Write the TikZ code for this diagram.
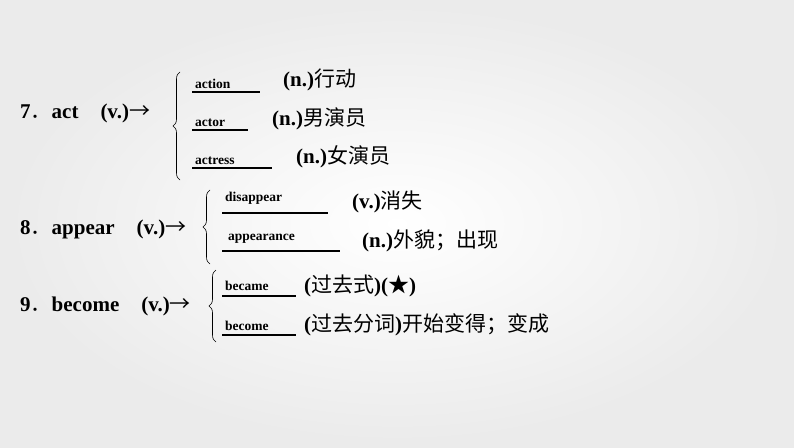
\documentclass[tikz,border=0pt]{standalone}
\usepackage{fontspec}
\setmainfont{Liberation Serif}
\newfontfamily\cjkf{Noto Sans CJK SC}
\newcommand\cjk{\cjkf\mdseries}
\newcommand\rarr{{\cjk →}}
\usetikzlibrary{decorations.pathreplacing}
\tikzset{
 head/.style={anchor=west,font=\bfseries\fontsize{21}{23}\selectfont,inner sep=0},
 ans/.style={anchor=south west,font=\bfseries\fontsize{13.5}{14}\selectfont,inner sep=1pt},
 mean/.style={anchor=west,font=\bfseries\fontsize{21}{23}\selectfont,inner sep=0},
 blank/.style={line width=1.3pt},
 br/.style={decorate,decoration={brace,amplitude=7pt,mirror},line width=0.6pt}
}
\begin{document}
\begin{tikzpicture}[x=1pt,y=-1pt]
\useasboundingbox (0,0) rectangle (794,447);
\shade[inner color=white,outer color=black!8] (0,0) rectangle (794,447);
% row 7
\node[head] (h7) at (20,113) {7{\cjk ．}act\hspace{22pt}(v.)\rarr};
\draw[br] (180,72) -- (180,180);
\coordinate (l1a) at (192,92); \coordinate (l1b) at (260,92);
\draw[blank] (l1a) -- (l1b); \node[ans] (a1) at (194,90) {action};
\node[mean] (m1) at (283,80) {(n.){\cjk 行动}};
\coordinate (l2a) at (192,130); \coordinate (l2b) at (248,130);
\draw[blank] (l2a) -- (l2b); \node[ans] (a2) at (194,128) {actor};
\node[mean] (m2) at (272,119) {(n.){\cjk 男演员}};
\coordinate (l3a) at (192,168); \coordinate (l3b) at (272,168);
\draw[blank] (l3a) -- (l3b); \node[ans] (a3) at (194,166) {actress};
\node[mean] (m3) at (296,157) {(n.){\cjk 女演员}};
% row 8
\node[head] (h8) at (20,229) {8{\cjk ．}appear\hspace{22pt}(v.)\rarr};
\draw[br] (210,190) -- (210,264);
\coordinate (l4a) at (222,213); \coordinate (l4b) at (328,213);
\draw[blank] (l4a) -- (l4b); \node[ans] (a4) at (224,206) {disappear};
\node[mean] (m4) at (352,202) {(v.){\cjk 消失}};
\coordinate (l5a) at (222,251); \coordinate (l5b) at (340,251);
\draw[blank] (l5a) -- (l5b); \node[ans] (a5) at (227,245) {appearance};
\node[mean] (m5) at (362,241) {(n.){\cjk 外貌；出现}};
% row 9
\node[head] (h9) at (20,306) {9{\cjk ．}become\hspace{22pt}(v.)\rarr};
\draw[br] (216,270) -- (216,342);
\coordinate (l6a) at (222,296); \coordinate (l6b) at (296,296);
\draw[blank] (l6a) -- (l6b); \node[ans] (a6) at (224,292) {became};
\node[mean] (m6) at (304,286) {({\cjk 过去式})({\cjk ★})};
\coordinate (l7a) at (222,335); \coordinate (l7b) at (296,335);
\draw[blank] (l7a) -- (l7b); \node[ans] (a7) at (224,332) {become};
\node[mean] (m7) at (304,325) {({\cjk 过去分词}){\cjk 开始变得；变成}};
\end{tikzpicture}
\end{document}
